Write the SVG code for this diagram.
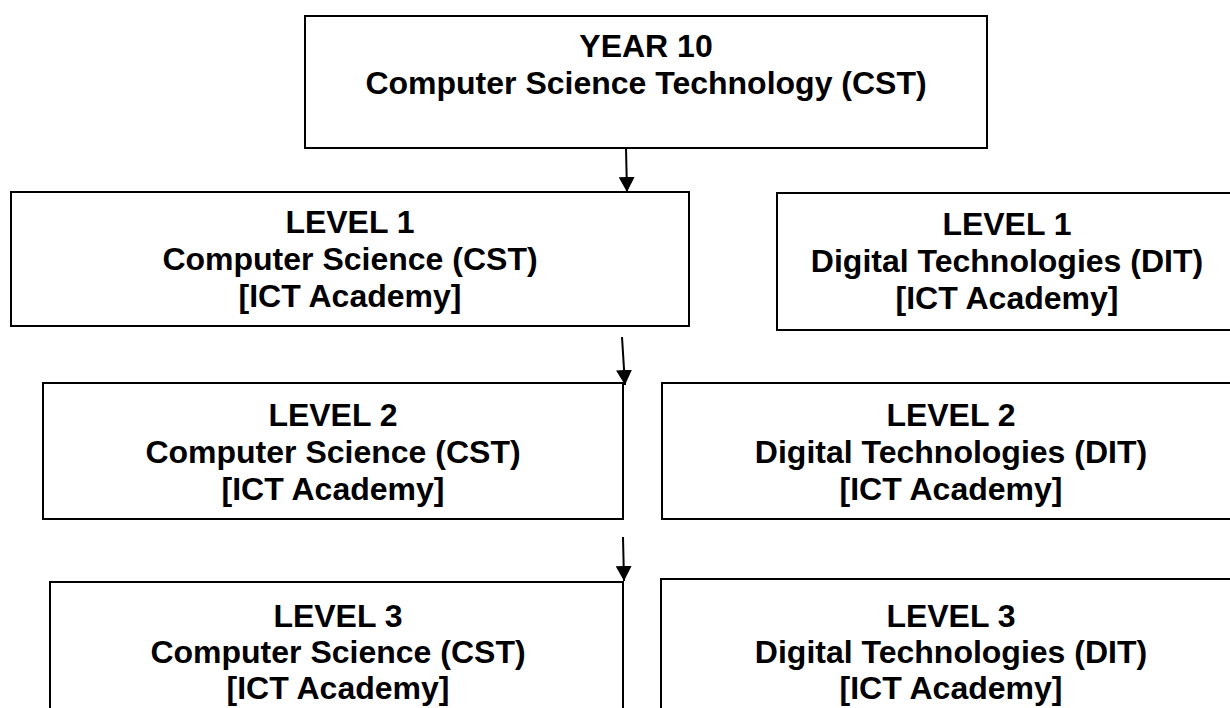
<svg xmlns="http://www.w3.org/2000/svg" width="1230" height="708" viewBox="0 0 1230 708">
<defs>
<style>
.box{fill:#fff;stroke:#000;stroke-width:2}
.t{font-family:"Liberation Sans",Arial,sans-serif;font-weight:bold;font-size:32px;fill:#000;text-anchor:middle}
.c{stroke:#000;stroke-width:2;fill:none}
</style>
<marker id="ah" markerWidth="16" markerHeight="16" refX="15" refY="8" orient="auto" markerUnits="userSpaceOnUse" viewBox="0 0 16 16">
<path d="M0,0 L15,8 L0,16 Z" fill="#000"/>
</marker>
</defs>
<rect width="1230" height="708" fill="#fff"/>
<g id="year10"><rect class="box" x="305" y="16" width="682" height="132"/>
<text class="t" x="646" y="57">YEAR 10</text><text class="t" x="646" y="94">Computer Science Technology (CST)</text></g>
<g id="l1cst"><rect class="box" x="11" y="192" width="678" height="134"/>
<text class="t" x="350" y="233">LEVEL 1</text><text class="t" x="350" y="270">Computer Science (CST)</text><text class="t" x="350" y="307">[ICT Academy]</text></g>
<g id="l1dit"><rect class="box" x="777" y="193" width="470" height="137"/>
<text class="t" x="1007" y="235">LEVEL 1</text><text class="t" x="1007" y="272">Digital Technologies (DIT)</text><text class="t" x="1007" y="309">[ICT Academy]</text></g>
<g id="l2cst"><rect class="box" x="43" y="383" width="580" height="136"/>
<text class="t" x="333" y="426">LEVEL 2</text><text class="t" x="333" y="463">Computer Science (CST)</text><text class="t" x="333" y="500">[ICT Academy]</text></g>
<g id="l2dit"><rect class="box" x="662" y="383" width="590" height="136"/>
<text class="t" x="951" y="426">LEVEL 2</text><text class="t" x="951" y="463">Digital Technologies (DIT)</text><text class="t" x="951" y="500">[ICT Academy]</text></g>
<g id="l3cst"><rect class="box" x="50" y="582" width="573" height="140"/>
<text class="t" x="338" y="627">LEVEL 3</text><text class="t" x="338" y="663">Computer Science (CST)</text><text class="t" x="338" y="699">[ICT Academy]</text></g>
<g id="l3dit"><rect class="box" x="661" y="579" width="590" height="140"/>
<text class="t" x="951" y="627">LEVEL 3</text><text class="t" x="951" y="663">Digital Technologies (DIT)</text><text class="t" x="951" y="699">[ICT Academy]</text></g>
<g id="connectors">
<line class="c" x1="626" y1="148" x2="627" y2="192" marker-end="url(#ah)"/>
<line class="c" x1="622" y1="337" x2="625" y2="385" marker-end="url(#ah)"/>
<line class="c" x1="623" y1="537" x2="624" y2="581" marker-end="url(#ah)"/>
</g>
</svg>
